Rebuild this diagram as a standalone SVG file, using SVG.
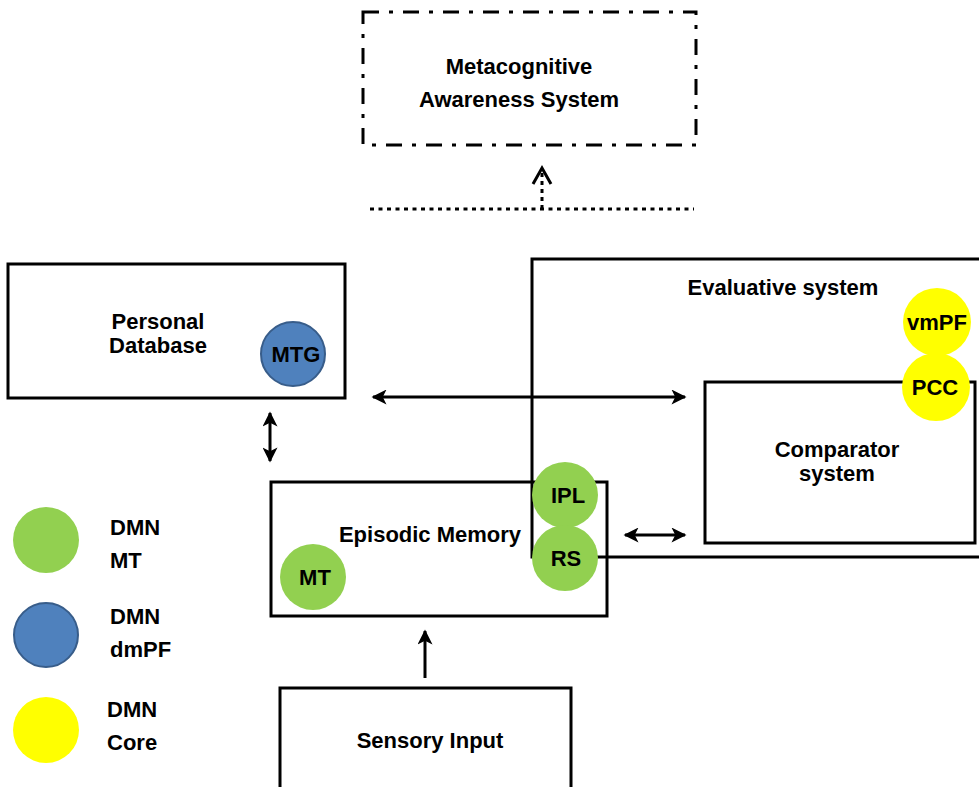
<svg xmlns="http://www.w3.org/2000/svg" width="979" height="787" viewBox="0 0 979 787">
<defs>
<style>
text{font-family:"Liberation Sans",Arial,sans-serif;font-weight:bold;font-size:22px;fill:#000;text-anchor:middle}
.box{fill:none;stroke:#000;stroke-width:3}
.wbox{fill:#fff;stroke:#000;stroke-width:3}
.g{fill:#92d050}
.y{fill:#ffff00}
.b{fill:#4f81bd;stroke:#385d8a;stroke-width:2}
.line{stroke:#000;stroke-width:3;fill:none}
.leg{text-anchor:start}
</style>
<marker id="ah" viewBox="0 0 10 10" refX="9" refY="5" markerWidth="5.5" markerHeight="5" orient="auto-start-reverse" markerUnits="strokeWidth">
<path d="M0,0 L10,5 L0,10 L2.5,5 Z" fill="#000"/>
</marker>
</defs>
<rect width="979" height="787" fill="#fff"/>

<g id="metacognitive">
<rect x="363" y="12" width="333" height="133" class="box" stroke-dasharray="16 10 4 10"/>
<text x="519" y="74">Metacognitive</text>
<text x="519" y="107">Awareness System</text>
</g>

<g id="evaluative">
<rect x="532" y="259" width="460" height="298" class="box"/>
<text x="783" y="295">Evaluative system</text>
</g>

<g id="comparator">
<rect x="705" y="382" width="270" height="161" class="wbox"/>
<text x="837" y="457">Comparator</text>
<text x="837" y="481">system</text>
</g>

<g id="vmPF">
<circle cx="937" cy="322" r="34" class="y"/>
<text x="937" y="330">vmPF</text>
</g>
<g id="PCC">
<circle cx="936" cy="387" r="34" class="y"/>
<text x="935" y="395">PCC</text>
</g>

<g id="personal">
<rect x="8" y="264" width="337" height="134" class="box"/>
<text x="158" y="329">Personal</text>
<text x="158" y="353">Database</text>
</g>
<g id="MTG">
<circle cx="293" cy="354" r="32" class="b"/>
<text x="296" y="362">MTG</text>
</g>

<g id="episodic">
<rect x="271" y="482" width="336" height="134" class="box"/>
<text x="430" y="542">Episodic Memory</text>
</g>
<g id="MT">
<circle cx="313" cy="577" r="33" class="g"/>
<text x="315" y="585">MT</text>
</g>
<g id="IPL">
<circle cx="565" cy="495" r="33" class="g"/>
<text x="568" y="503">IPL</text>
</g>
<g id="RS">
<circle cx="565" cy="558" r="33" class="g"/>
<text x="566" y="566">RS</text>
</g>

<g id="sensory">
<rect x="280" y="688" width="291" height="110" class="box"/>
<text x="430" y="748">Sensory Input</text>
</g>

<g id="legend">
<circle cx="46" cy="540" r="33" class="g"/>
<text class="leg" x="110" y="535">DMN</text>
<text class="leg" x="110" y="568">MT</text>
<circle cx="46" cy="635" r="32" class="b"/>
<text class="leg" x="110" y="624">DMN</text>
<text class="leg" x="110" y="657">dmPF</text>
<circle cx="46" cy="730" r="33" class="y"/>
<text class="leg" x="107" y="717">DMN</text>
<text class="leg" x="107" y="750">Core</text>
</g>

<g id="connectors">
<line x1="370" y1="209" x2="694" y2="209" stroke="#000" stroke-width="3" stroke-dasharray="4 4.5"/>
<line x1="542" y1="209" x2="542" y2="172" stroke="#000" stroke-width="3" stroke-dasharray="4 4"/>
<polyline points="533,184 542,168 551,184" class="line" stroke-width="3.5"/>
<line x1="373" y1="397" x2="685" y2="397" class="line" marker-start="url(#ah)" marker-end="url(#ah)"/>
<line x1="270" y1="413" x2="270" y2="461" class="line" marker-start="url(#ah)" marker-end="url(#ah)"/>
<line x1="625" y1="535" x2="685" y2="535" class="line" marker-start="url(#ah)" marker-end="url(#ah)"/>
<line x1="425" y1="678" x2="425" y2="631" class="line" marker-end="url(#ah)"/>
</g>
</svg>
